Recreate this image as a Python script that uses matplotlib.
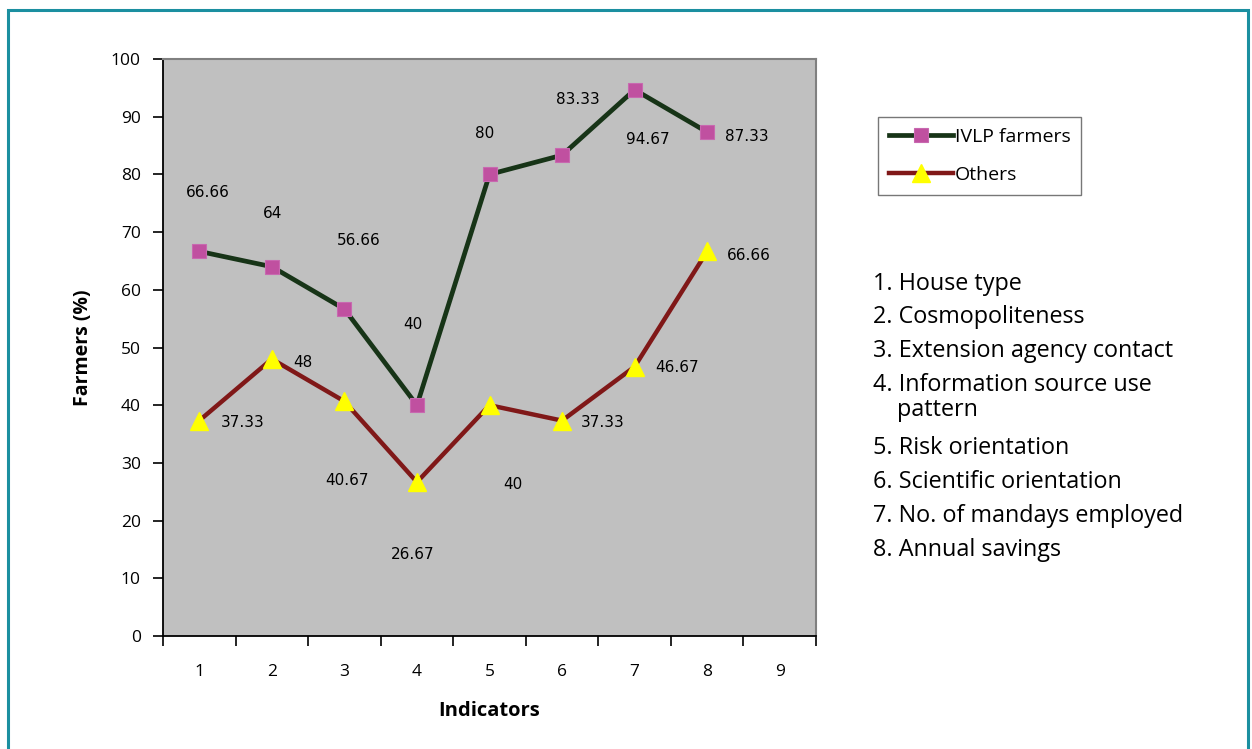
import matplotlib
matplotlib.use("Agg")
import matplotlib.pyplot as plt
from matplotlib.patches import Rectangle
from matplotlib.ticker import FixedLocator, NullFormatter

indicators = [1, 2, 3, 4, 5, 6, 7, 8]
ivlp = [66.66, 64, 56.66, 40, 80, 83.33, 94.67, 87.33]
others = [37.33, 48, 40.67, 26.67, 40, 37.33, 46.67, 66.66]
ivlp_labels = ["66.66", "64", "56.66", "40", "80", "83.33", "94.67", "87.33"]
others_labels = ["37.33", "48", "40.67", "26.67", "40", "37.33", "46.67", "66.66"]
xtick_labels = ["1", "2", "3", "4", "5", "6", "7", "8", "9"]
legend_names = ["IVLP farmers", "Others"]
key_items = ["1. House type", "2. Cosmopoliteness", "3. Extension agency contact",
             "4. Information source use\npattern", "5. Risk orientation",
             "6. Scientific orientation", "7. No. of mandays employed", "8. Annual savings"]

# label offsets (pixels) as seen in the original
ivlp_off = [(9, 59), (1, 53), (14, 69), (-4, 81), (-5, 41), (16, 56), (13, -50), (40, -4)]
others_off = [(43, -2), (31, -3), (3, -79), (-4, -72), (23, -79), (41, -2), (42, -1), (42, -4)]

W, H = 1252, 749
fig = plt.figure(figsize=(W / 100, H / 100), dpi=100)
fig.patch.set_facecolor("white")

# teal frame
fig.add_artist(Rectangle((8 / W, -0.05), (1248 - 8) / W, 1.05 - 10 / H,
                         transform=fig.transFigure, fill=False,
                         edgecolor="#1B8FA0", linewidth=2.2))

ax = fig.add_axes([163 / W, 1 - 636 / H, 653 / W, 577 / H])
ax.set_facecolor("#C0C0C0")
ax.set_xlim(0.5, 9.5)
ax.set_ylim(0, 100)

ax.plot(indicators, ivlp, color="#173417", linewidth=3.4, marker="s",
        markersize=10, markerfacecolor="#C050A0", markeredgecolor="#C868B0",
        markeredgewidth=0.8, label=legend_names[0], zorder=3)
ax.plot(indicators, others, color="#801818", linewidth=3.2, marker="^",
        markersize=13, markerfacecolor="#FFFF00", markeredgecolor="#FFFF00",
        label=legend_names[1], zorder=3)

lab_font = dict(family="DejaVu Sans", fontsize=11, color="black")
for x, y, t, (dx, dy) in zip(indicators, ivlp, ivlp_labels, ivlp_off):
    ax.annotate(t, (x, y), xytext=(dx, dy), textcoords="offset pixels",
                ha="center", va="center", **lab_font)
for x, y, t, (dx, dy) in zip(indicators, others, others_labels, others_off):
    ax.annotate(t, (x, y), xytext=(dx, dy), textcoords="offset pixels",
                ha="center", va="center", **lab_font)

# spines
for s in ["top", "right"]:
    ax.spines[s].set_color("#808080")
    ax.spines[s].set_linewidth(1.5)
for s in ["left", "bottom"]:
    ax.spines[s].set_color("black")
    ax.spines[s].set_linewidth(1.3)

ax.set_yticks(range(0, 101, 10))
ax.tick_params(axis="y", direction="out", length=7, width=1.2, pad=9,
               labelsize=12.5)
for lbl in ax.get_yticklabels():
    lbl.set_fontfamily("Open Sans")

ax.xaxis.set_major_locator(FixedLocator([0.5 + i for i in range(10)]))
ax.xaxis.set_major_formatter(NullFormatter())
ax.xaxis.set_minor_locator(FixedLocator(list(range(1, 10))))
ax.set_xticklabels(xtick_labels, minor=True)
ax.tick_params(axis="x", which="major", direction="out", length=7, width=1.2)
ax.tick_params(axis="x", which="minor", length=0, pad=20, labelsize=12.5)
for lbl in ax.get_xticklabels(minor=True):
    lbl.set_fontfamily("Open Sans")

ax.set_ylabel("Farmers (%)", fontsize=14, fontweight="bold",
              family="Open Sans", labelpad=13)
ax.set_xlabel("Indicators", fontsize=14.5, fontweight="bold",
              family="Open Sans", labelpad=15)

leg = fig.legend(loc="upper left", bbox_to_anchor=(878 / W, 1 - 117 / H),
                 frameon=True, fancybox=False, edgecolor="#555555",
                 prop={"family": "Open Sans", "size": 14},
                 handlelength=3.3, handletextpad=0.1, borderpad=0.55,
                 labelspacing=1.05, borderaxespad=0, markerscale=1.0)
leg.get_frame().set_linewidth(1.0)

ys = [284, 317, 351, 385, 448, 482, 516, 550]
for t, y in zip(key_items, ys):
    lines = t.split("\n")
    fig.text(873 / W, 1 - y / H, lines[0], ha="left", va="center",
             family="Open Sans", fontsize=16.8)
    for k, extra in enumerate(lines[1:], start=1):
        fig.text(897 / W, 1 - (y + 25 * k) / H, extra, ha="left", va="center",
                 family="Open Sans", fontsize=16.8)

fig.savefig("out.png", dpi=100)
